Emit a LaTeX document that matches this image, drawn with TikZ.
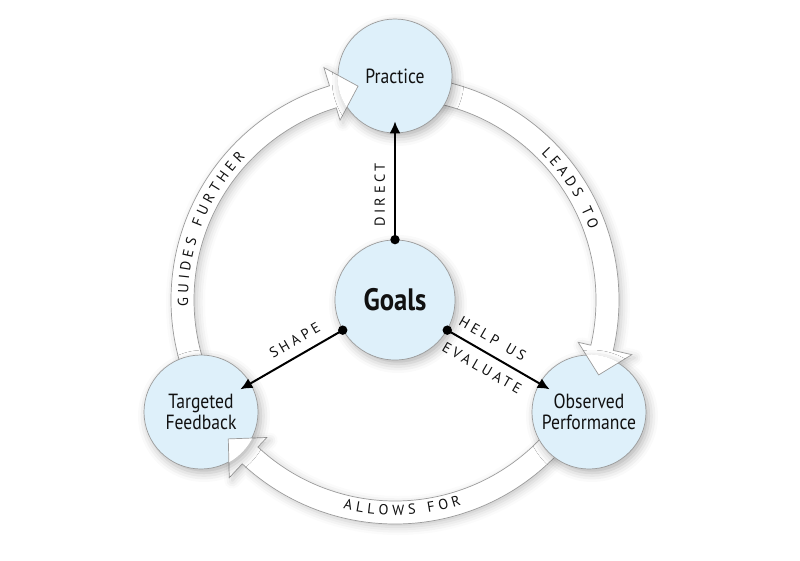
\documentclass[tikz,border=0pt]{standalone}
\usepackage{fontspec}
\setmainfont{PT Sans}
\newfontfamily\condfont[FakeStretch=0.86]{PT Sans}
\newfontfamily\capsfont[LetterSpace=24]{PT Sans}
\newfontfamily\bandfont[WordSpace=1.05]{PT Sans}
\usetikzlibrary{arrows.meta,decorations.text,shadows.blur}
\definecolor{circfill}{RGB}{222,240,250}
\definecolor{edgegray}{RGB}{155,155,155}
\definecolor{inkc}{RGB}{17,17,17}
\def\bandshape#1#2{(#1:224) arc[start angle=#1, end angle={#2+17}, radius=224] -- ({#2+17}:243) -- ({#2+9.8}:217) -- ({#2+17}:188) -- ({#2+17}:201) arc[start angle={#2+17}, end angle=#1, radius=201] -- cycle}
\begin{document}
\begin{tikzpicture}[x=1pt,y=1pt,
  softshadow/.style={blur shadow={shadow xshift=3pt, shadow yshift=-3pt, shadow blur radius=8pt, shadow opacity=22}},
  bubshadow/.style={blur shadow={shadow xshift=3pt, shadow yshift=-4pt, shadow blur radius=9pt, shadow opacity=30}},
  bubble/.style={circle, draw=edgegray, line width=0.7pt, fill=circfill, minimum size=114pt, inner sep=0pt, align=center, text=inkc, font=\condfont\fontsize{20.5}{21.5}\selectfont, bubshadow},
  bandarrow/.style={draw=edgegray, line width=0.7pt, fill=white, softshadow},
  bandhead/.style={draw=edgegray, line width=0.7pt, fill=white},
  conn/.style={draw=black, line width=2pt, -{Latex[length=12pt,width=11pt]}, shorten >=-12pt},
  capslabel/.style={font=\capsfont\fontsize{14.5}{15}\selectfont, text=inkc, inner sep=3pt, sloped},
  banddeco/.style={decorate, decoration={text along path, text align=center, text={|\bandfont\fontsize{14.5}{15}\selectfont\color{inkc}|#1}}},
  dotc/.style={fill=black}
]
\useasboundingbox (-395,-260) rectangle (405,300);

% curved band arrows
\path[bandarrow] \bandshape{210}{90};
\path[bandarrow] \bandshape{90}{-30};
\path[bandarrow] \bandshape{-30}{-150};

% circles
\node[bubble] (practice) at (90:224) {Practice};
\node[bubble] (tf) at (210:224) {Targeted\\Feedback};
\node[bubble] (op) at (330:224) {Observed\\Performance};
\node[bubble, minimum size=120pt, font=\condfont\bfseries\fontsize{31}{32}\selectfont] (goals) at (0,0) {Goals};

% arrow heads lying over the target circles
\begin{scope}\clip (practice) circle[radius=57.6]; \path[bandhead] \bandshape{210}{90}; \end{scope}
\begin{scope}\clip (op) circle[radius=57.6]; \path[bandhead] \bandshape{90}{-30}; \end{scope}
\begin{scope}\clip (tf) circle[radius=57.6]; \path[bandhead] \bandshape{-30}{-150}; \end{scope}

% band texts
\path[banddeco={G U I D E S ~ F U R T H E R}] (210:207) arc[start angle=210, end angle=108, radius=207];
\path[banddeco={L E A D S ~ T O}] (90:207) arc[start angle=90, end angle=-25, radius=207];
\path[banddeco={A L L O W S ~ F O R}] (-150:215) arc[start angle=-150, end angle=-26, radius=215];

% connectors from goals
\draw[conn] (goals.90) -- node[capslabel, pos=0.42, above=6pt] {DIRECT} (practice);
\draw[conn] (goals.210) -- node[capslabel, pos=0.44, above=6pt] {SHAPE} (tf);
\draw[conn] (goals.330) -- node[capslabel, pos=0.41, above=6pt] {HELP\kern0.7em US} node[capslabel, pos=0.46, below=6pt] {EVALUATE} (op);
\fill[dotc] (goals.90) circle[radius=4.7];
\fill[dotc] (goals.210) circle[radius=4.7];
\fill[dotc] (goals.330) circle[radius=4.7];
\end{tikzpicture}
\end{document}
